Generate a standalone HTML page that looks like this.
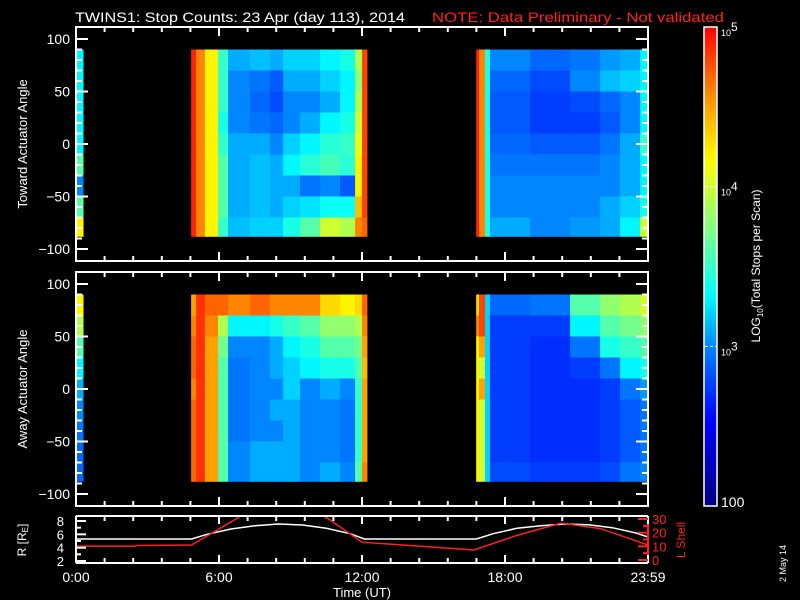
<!DOCTYPE html>
<html><head><meta charset="utf-8"><style>
html,body{margin:0;padding:0;background:#000;}
svg{display:block;}
text{font-family:"Liberation Sans",sans-serif;fill:#fff;}
</style></head><body>
<svg id="chart" width="800" height="600" viewBox="0 0 800 600" xmlns="http://www.w3.org/2000/svg">
<rect width="800" height="600" fill="#000"/>
<text x="75" y="22" font-size="14" textLength="330" lengthAdjust="spacingAndGlyphs">TWINS1: Stop Counts: 23 Apr (day 113), 2014</text>
<text x="432" y="22" font-size="14" style="fill:#ff2020" textLength="292" lengthAdjust="spacingAndGlyphs">NOTE: Data Preliminary - Not validated</text>
<g id="p1"></g>
<g id="p2"></g>
<g id="orbit"></g>
<g id="cbar"></g>
<text transform="translate(27,144) rotate(-90)" text-anchor="middle" font-size="13">Toward Actuator Angle</text>
<text transform="translate(27,389) rotate(-90)" text-anchor="middle" font-size="13">Away Actuator Angle</text>
<text transform="translate(26,540) rotate(-90)" text-anchor="middle" font-size="12">R [R<tspan font-size="8" dy="2">E</tspan><tspan dy="-2">]</tspan></text>
<text transform="translate(685,540) rotate(-90)" text-anchor="middle" font-size="12" style="fill:#ff2020">L Shell</text>
<text x="362" y="597" text-anchor="middle" font-size="13">Time (UT)</text>
<text transform="translate(760,266) rotate(-90)" text-anchor="middle" font-size="12">LOG<tspan font-size="8" dy="3">10</tspan><tspan dy="-3">(Total Stops per Scan)</tspan></text>
<text transform="translate(786,582) rotate(-90)" font-size="9">2 May 14</text>
</svg>
<script>
// ---- data ----
const timeEdges = [0,0.3,4.83,5.04,5.41,5.96,6.38,7.30,8.14,8.69,9.40,10.24,11.08,11.71,12.0,12.21,16.79,16.91,17.16,17.37,19.05,20.73,21.99,22.83,23.67,24];
const angleEdges = [90,70,50,30,10,-10,-30,-50,-70,-88];
// log10 counts per column (top->bottom bands); null = no data
const towardValues = [
 [3.3,3.3,3.3,3.3,3.3,3.6,3.0,3.6,4.2],
 null,
 [4.9,4.9,4.9,4.9,4.9,4.9,4.9,4.9,4.9],
 [4.6,4.6,4.6,4.6,4.6,4.6,4.6,4.6,4.6],
 [4.2,4.2,4.2,4.2,4.2,4.2,4.2,4.2,4.2],
 [3.5,3.5,3.5,3.4,3.5,3.6,3.6,3.6,3.5],
 [3.1,3.0,3.0,3.0,3.1,3.1,3.1,3.1,3.15],
 [3.15,2.95,2.9,2.95,3.1,3.15,3.15,3.15,3.2],
 [3.1,2.85,2.8,2.9,3.0,3.1,3.1,3.1,3.2],
 [3.2,3.1,3.0,3.0,3.2,3.3,3.1,3.2,3.4],
 [3.2,3.1,3.0,3.1,3.3,3.45,2.95,3.25,3.6],
 [3.3,3.2,3.1,3.3,3.45,3.55,3.0,3.35,4.0],
 [3.4,3.3,3.3,3.4,3.5,3.45,2.85,3.35,3.9],
 [3.9,3.8,3.9,4.0,4.1,4.2,4.2,4.4,4.6],
 [4.8,4.8,4.8,4.8,4.8,4.8,4.8,4.8,4.7],
 null,
 [4.9,4.9,4.9,4.9,4.9,4.9,4.9,4.9,4.9],
 [4.6,4.6,4.6,4.6,4.6,4.6,4.6,4.6,4.6],
 [3.4,3.4,3.4,3.4,3.4,3.4,3.4,3.4,3.4],
 [3.0,2.9,2.85,2.85,2.9,2.95,3.0,3.0,3.1],
 [2.9,2.8,2.75,2.75,2.85,2.95,3.0,3.0,3.0],
 [2.95,3.0,2.8,2.75,2.85,2.95,3.0,3.0,3.05],
 [3.05,3.15,2.9,2.85,2.95,3.0,3.0,3.1,3.1],
 [3.1,3.2,3.0,3.0,3.1,3.1,3.1,3.2,3.3],
 [3.3,3.3,3.3,3.3,3.5,3.3,3.3,3.4,4.0]
];
const awayValues = [
 [4.2,3.9,3.6,3.3,3.1,3.0,2.95,2.9,2.9],
 null,
 [4.5,4.6,4.7,4.7,4.6,4.7,4.7,4.7,4.7],
 [4.85,4.85,4.85,4.85,4.85,4.85,4.85,4.85,4.85],
 [4.7,4.6,4.5,4.5,4.5,4.5,4.5,4.5,4.5],
 [4.7,3.9,3.7,3.6,3.6,3.6,3.6,3.6,3.6],
 [4.6,3.3,3.0,2.95,2.95,2.95,2.95,3.0,3.0],
 [4.7,3.3,3.0,3.0,3.0,3.0,3.0,3.1,3.1],
 [4.6,3.4,3.1,3.1,3.0,3.1,3.0,3.1,3.1],
 [4.6,3.5,3.3,3.2,3.2,3.1,3.1,3.1,3.1],
 [4.6,3.6,3.4,3.3,3.0,3.0,3.0,3.0,3.0],
 [4.3,3.8,3.6,3.4,3.1,3.0,3.0,3.0,3.1],
 [4.2,3.8,3.6,3.4,3.0,2.95,2.95,2.95,3.0],
 [4.3,3.9,3.7,3.6,3.5,3.5,3.5,3.5,3.6],
 [4.7,4.6,4.5,4.4,4.5,4.5,4.5,4.5,4.6],
 null,
 [4.3,4.6,4.2,4.2,4.2,4.2,4.2,4.2,4.2],
 [4.8,4.8,4.5,4.0,4.5,4.0,4.0,4.0,4.0],
 [3.2,3.2,3.2,3.2,3.2,3.2,3.2,3.2,3.2],
 [2.9,2.75,2.75,2.75,2.75,2.75,2.75,2.75,2.8],
 [2.95,2.75,2.7,2.7,2.7,2.7,2.7,2.7,2.75],
 [3.6,3.3,2.95,2.75,2.7,2.7,2.7,2.7,2.75],
 [3.8,3.6,3.4,2.95,2.75,2.75,2.75,2.75,2.8],
 [3.9,3.7,3.5,3.3,2.95,2.85,2.85,2.85,2.95],
 [4.0,3.8,3.6,3.4,3.05,2.95,2.95,2.95,3.0]
];
const rHours = [0,4.85,5.5,6.5,7.5,8.5,9.5,10.5,11.5,12.1,16.8,17.5,18.5,19.5,20.5,21.5,22.5,23.5,24];
const rValues = [5.3,5.3,6.0,6.8,7.3,7.55,7.4,6.9,6.1,5.3,5.3,6.1,6.9,7.3,7.55,7.45,7.0,6.2,5.6];
const lHours = [0,2.5,2.55,4.85,7.3,10.0,10.6,12.0,16.7,18.5,20.35,22,24];
const lValues = [10.2,10.2,10.6,11,36,36,30,13,7.3,18,27,23,11];
const timeTickLabels = ["0:00","6:00","12:00","18:00","23:59"];
const angleTickLabels = [100,50,0,-50,-100];
const rTickLabels = [2,4,6,8];
const lTickLabels = [0,10,20,30];

// ---- layout ----
const X0=76, X1=648;
const xs = h => X0 + (X1-X0)*h/24;
const NS="http://www.w3.org/2000/svg";
function mk(tag, parent, attrs){const e=document.createElementNS(NS,tag);for(const k in attrs)e.setAttribute(k,attrs[k]);parent.appendChild(e);return e;}
const stops=[[0,[0,0,130]],[0.18,[0,0,255]],[0.33,[0,130,255]],[0.44,[0,255,255]],[0.58,[128,255,128]],[0.72,[255,255,0]],[0.86,[255,140,0]],[1,[255,0,0]]];
function cmap(v){let t=Math.max(0,Math.min(1,(v-2)/3));for(let i=1;i<stops.length;i++){if(t<=stops[i][0]){const a=stops[i-1],b=stops[i];const f=(t-a[0])/(b[0]-a[0]);const c=a[1].map((x,j)=>Math.round(x+(b[1][j]-x)*f));return `rgb(${c})`;}}return "rgb(255,0,0)";}

function panel(g, top, bottom, values){
  const ys = a => top + 12 + (bottom-top-24)*(100-a)/200;
  for(let i=0;i<values.length;i++){
    const col=values[i]; if(!col) continue;
    for(let j=0;j<col.length;j++){
      const r=mk('rect',g,{x:xs(timeEdges[i]).toFixed(2),y:ys(angleEdges[j]).toFixed(2),width:(xs(timeEdges[i+1])-xs(timeEdges[i])+0.4).toFixed(2),height:(ys(angleEdges[j+1])-ys(angleEdges[j])+0.4).toFixed(2),fill:cmap(col[j])});
      
      
    }
  }
  mk('rect',g,{x:X0,y:top,width:X1-X0,height:bottom-top,fill:'none',stroke:'#fff','stroke-width':2});
  for(let k=0;k<=20;k++){const x=X0+(X1-X0)*k/20;const L=(k%5===0)?9:5;
    mk('line',g,{x1:x,x2:x,y1:bottom,y2:bottom-L,stroke:'#fff','stroke-width':2});
    mk('line',g,{x1:x,x2:x,y1:top,y2:top+L,stroke:'#fff','stroke-width':2});}
  for(let a=-100;a<=100;a+=10){const y=ys(a);const L=(a%50===0)?12:6;
    mk('line',g,{x1:X0,x2:X0+L,y1:y,y2:y,stroke:'#fff','stroke-width':2});
    mk('line',g,{x1:X1,x2:X1-L,y1:y,y2:y,stroke:'#fff','stroke-width':2});}
  angleTickLabels.forEach(a=>{const t=mk('text',g,{x:X0-6,y:ys(a)+5,'text-anchor':'end','font-size':14});t.textContent=(a<0?'\u2212'+(-a):a);
    
    });
}
panel(document.getElementById('p1'),27,261,towardValues);
panel(document.getElementById('p2'),272,506,awayValues);

// orbit panel
const og=document.getElementById('orbit');
const OT=516, OB=563;
const ry = r => 561 - (r-2)*40/6;
const ly = l => 560 - l*41/30;
mk('clipPath',og,{id:'oclip'}).appendChild(document.createElementNS(NS,'rect'));
const cr=og.querySelector('#oclip rect');cr.setAttribute('x',X0);cr.setAttribute('y',OT);cr.setAttribute('width',X1-X0);cr.setAttribute('height',OB-OT);
const rp=mk('polyline',og,{points:rHours.map((h,i)=>xs(h).toFixed(1)+','+ry(rValues[i]).toFixed(1)).join(' '),fill:'none',stroke:'#fff','stroke-width':1.5,'clip-path':'url(#oclip)'});


const lp=mk('polyline',og,{points:lHours.map((h,i)=>xs(h).toFixed(1)+','+ly(lValues[i]).toFixed(1)).join(' '),fill:'none',stroke:'#ff2020','stroke-width':1.5,'clip-path':'url(#oclip)'});


mk('line',og,{x1:X0,x2:X1,y1:OT,y2:OT,stroke:'#fff','stroke-width':2});
mk('line',og,{x1:X0,x2:X1,y1:OB,y2:OB,stroke:'#fff','stroke-width':2});
mk('line',og,{x1:X0,x2:X0,y1:OT,y2:OB,stroke:'#fff','stroke-width':2});
mk('line',og,{x1:X1,x2:X1,y1:OT,y2:OB,stroke:'#ff2020','stroke-width':2});
for(let k=0;k<=20;k++){const x=X0+(X1-X0)*k/20;const L=(k%5===0)?8:5;
  mk('line',og,{x1:x,x2:x,y1:OB,y2:OB-L,stroke:'#fff','stroke-width':2});
  mk('line',og,{x1:x,x2:x,y1:OT,y2:OT+L,stroke:'#fff','stroke-width':2});}
timeTickLabels.forEach((s,k)=>{const t=mk('text',og,{x:X0+(X1-X0)*k/4,y:582,'text-anchor':'middle','font-size':14});t.textContent=s;
  
  });
for(let r=2;r<=8;r+=1){mk('line',og,{x1:X0,x2:X0+(r%2===0?10:5),y1:ry(r),y2:ry(r),stroke:'#fff','stroke-width':2});}
rTickLabels.forEach(r=>{const t=mk('text',og,{x:X0-12,y:ry(r)+5,'text-anchor':'end','font-size':13});t.textContent=r;
  
  });
for(let l=0;l<=30;l+=5){mk('line',og,{x1:X1,x2:X1-(l%10===0?10:5),y1:ly(l),y2:ly(l),stroke:'#ff2020','stroke-width':2});}
lTickLabels.forEach(l=>{const t=mk('text',og,{x:X1+4,y:ly(l)+5,'font-size':13,style:'fill:#ff2020'});t.textContent=l;
  
  });

// colorbar
const cb=document.getElementById('cbar');
const CT=27, CB=506;
const grad=mk('linearGradient',mk('defs',cb,{}),{id:'cg',x1:0,y1:1,x2:0,y2:0});
for(let i=0;i<=30;i++){mk('stop',grad,{offset:i/30,'stop-color':cmap(2+3*i/30)});}
mk('rect',cb,{x:704,y:CT,width:13,height:CB-CT,fill:'url(#cg)',stroke:'#fff','stroke-width':1.5});
const cy = v => CB - (v-2)*(CB-CT)/3;
[3,4].forEach(v=>{mk('line',cb,{x1:705,x2:716,y1:cy(v),y2:cy(v),stroke:'#fff','stroke-width':1,'stroke-dasharray':'3,2'});});
[[5,'5'],[4,'4'],[3,'3']].forEach(([v,e])=>{const t=mk('text',cb,{x:721,y:cy(v)+9,'font-size':9});t.textContent='10';
  const s=document.createElementNS(NS,'tspan');s.setAttribute('font-size','12');s.setAttribute('dy','-5');s.textContent=e;t.appendChild(s);
  
  });
const t100=mk('text',cb,{x:721,y:cy(2)+1,'font-size':14});t100.textContent='100';


</script>
</body></html>
